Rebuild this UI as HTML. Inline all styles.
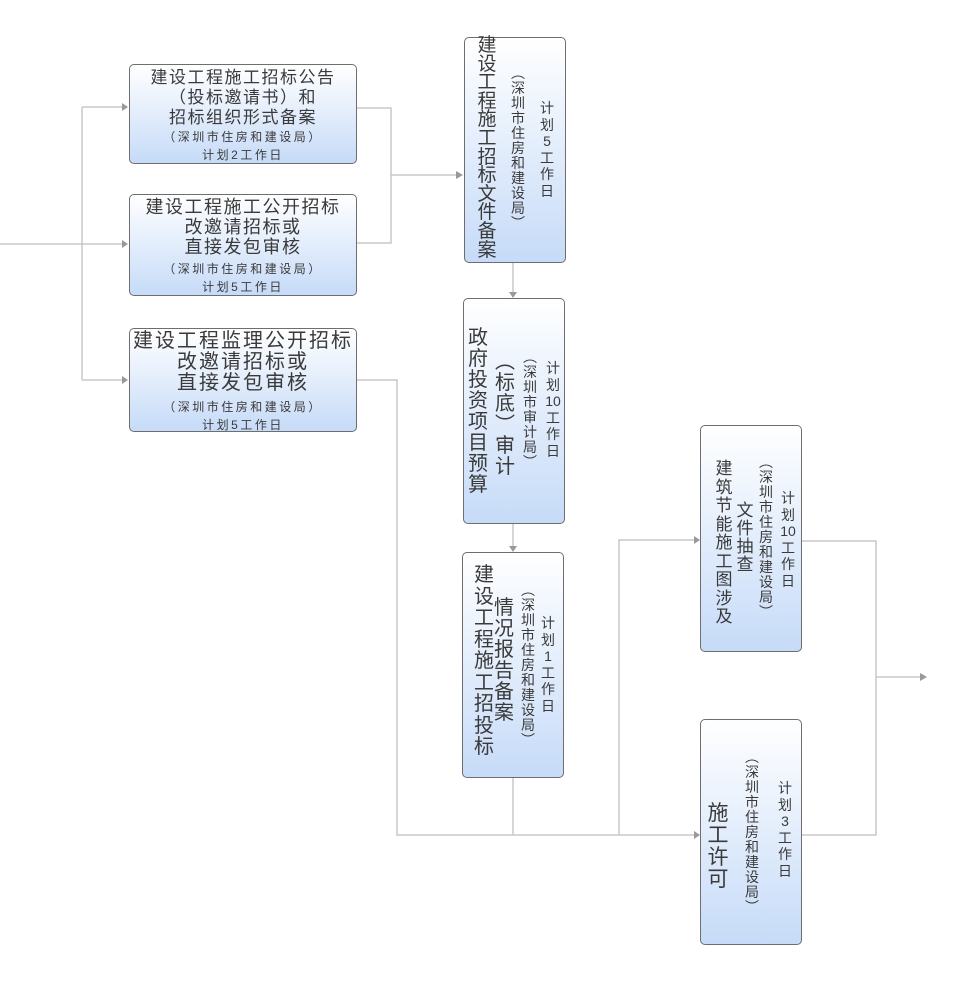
<!DOCTYPE html>
<html><head><meta charset="utf-8"><style>
body{margin:0;width:955px;height:1000px;position:relative;background:#fff;overflow:hidden;font-family:"Liberation Sans","Noto Sans CJK SC",sans-serif;color:#3a3a3a}
.b{position:absolute;border:1px solid #6e6e6e;border-radius:5px;background:linear-gradient(#ffffff,#c6dbf8);box-sizing:border-box}
.h{text-align:center}
.c{position:absolute;width:30px;text-align:center;white-space:nowrap}
.s{font-size:12px;line-height:18px;letter-spacing:2.5px}
</style></head><body>
<svg width="955" height="1000" style="position:absolute;left:0;top:0">
<g stroke="#c8c8c8" stroke-width="1.5" fill="none">
<path d="M0 244H82M82 107V380M82 107H124M82 244H124M82 380H124"/>
<path d="M357 108H391V243H357M391 175H458"/>
<path d="M513 263V294M513 524V548"/>
<path d="M357 380H397V835H696M513 778V835M619 835V540H696"/>
<path d="M802 541H876V835H802M876 677H922"/>
</g>
<g fill="#999">
<path d="M122 103l6 4-6 4z"/><path d="M122 240l6 4-6 4z"/><path d="M122 376l6 4-6 4z"/>
<path d="M456 171l7 4-7 4z"/>
<path d="M509 292l4 6 4-6z"/><path d="M509 546l4 6 4-6z"/>
<path d="M694 536l6 4-6 4z"/><path d="M694 831l6 4-6 4z"/>
<path d="M920 673l7 4-7 4z"/>
</g></svg>

<div class="b h" style="left:129px;top:64px;width:228px;height:100px">
<div style="font-size:17px;line-height:20px;margin-top:3px;letter-spacing:1.5px">建设工程施工招标公告<br>（投标邀请书）和<br>招标组织形式备案</div>
<div class="s">（深圳市住房和建设局）<br>计划2工作日</div></div>

<div class="b h" style="left:129px;top:194px;width:228px;height:102px">
<div style="font-size:18px;line-height:20px;margin-top:2px;letter-spacing:1.5px">建设工程施工公开招标<br>改邀请招标或<br>直接发包审核</div>
<div class="s" style="margin-top:3px">（深圳市住房和建设局）<br>计划5工作日</div></div>

<div class="b h" style="left:129px;top:328px;width:228px;height:104px">
<div style="font-size:20px;line-height:21px;margin-top:2px;letter-spacing:2px">建设工程监理公开招标<br>改邀请招标或<br>直接发包审核</div>
<div class="s" style="margin-top:4px">（深圳市住房和建设局）<br>计划5工作日</div></div>

<div class="b" style="left:464px;top:37px;width:102px;height:226px"></div>
<div class="c" style="left:472px;top:37px;font-size:19px;line-height:18.6px">建<br>设<br>工<br>程<br>施<br>工<br>招<br>标<br>文<br>件<br>备<br>案</div>
<div class="c" style="left:503px;top:66px;font-size:14px;line-height:15px">︵<br>深<br>圳<br>市<br>住<br>房<br>和<br>建<br>设<br>局<br>︶</div>
<div class="c" style="left:532px;top:100px;font-size:14px;line-height:16.5px">计<br>划<br>5<br>工<br>作<br>日</div>

<div class="b" style="left:463px;top:298px;width:102px;height:226px"></div>
<div class="c" style="left:463px;top:328px;font-size:20px;line-height:21px">政<br>府<br>投<br>资<br>项<br>目<br>预<br>算</div>
<div class="c" style="left:490px;top:352px;font-size:20px;line-height:21px">︵<br>标<br>底<br>︶<br>审<br>计</div>
<div class="c" style="left:515px;top:350px;font-size:14px;line-height:15px">︵<br>深<br>圳<br>市<br>审<br>计<br>局<br>︶</div>
<div class="c" style="left:538px;top:360px;font-size:14px;line-height:16.5px">计<br>划<br>10<br>工<br>作<br>日</div>

<div class="b" style="left:462px;top:552px;width:102px;height:226px"></div>
<div class="c" style="left:469px;top:565px;font-size:20px;line-height:21.5px">建<br>设<br>工<br>程<br>施<br>工<br>招<br>投<br>标</div>
<div class="c" style="left:489px;top:598px;font-size:20px;line-height:21px">情<br>况<br>报<br>告<br>备<br>案</div>
<div class="c" style="left:513px;top:583px;font-size:14px;line-height:15px">︵<br>深<br>圳<br>市<br>住<br>房<br>和<br>建<br>设<br>局<br>︶</div>
<div class="c" style="left:533px;top:615px;font-size:14px;line-height:16.5px">计<br>划<br>1<br>工<br>作<br>日</div>

<div class="b" style="left:700px;top:425px;width:102px;height:227px"></div>
<div class="c" style="left:709px;top:460px;font-size:17px;line-height:18.5px">建<br>筑<br>节<br>能<br>施<br>工<br>图<br>涉<br>及</div>
<div class="c" style="left:730px;top:502px;font-size:17px;line-height:18px">文<br>件<br>抽<br>查</div>
<div class="c" style="left:751px;top:455px;font-size:14px;line-height:15px">︵<br>深<br>圳<br>市<br>住<br>房<br>和<br>建<br>设<br>局<br>︶</div>
<div class="c" style="left:773px;top:490px;font-size:14px;line-height:16.5px">计<br>划<br>10<br>工<br>作<br>日</div>

<div class="b" style="left:700px;top:719px;width:102px;height:226px"></div>
<div class="c" style="left:703px;top:803px;font-size:21px;line-height:22px">施<br>工<br>许<br>可</div>
<div class="c" style="left:737px;top:750px;font-size:14px;line-height:15px">︵<br>深<br>圳<br>市<br>住<br>房<br>和<br>建<br>设<br>局<br>︶</div>
<div class="c" style="left:770px;top:780px;font-size:14px;line-height:16.5px">计<br>划<br>3<br>工<br>作<br>日</div>
</body></html>
